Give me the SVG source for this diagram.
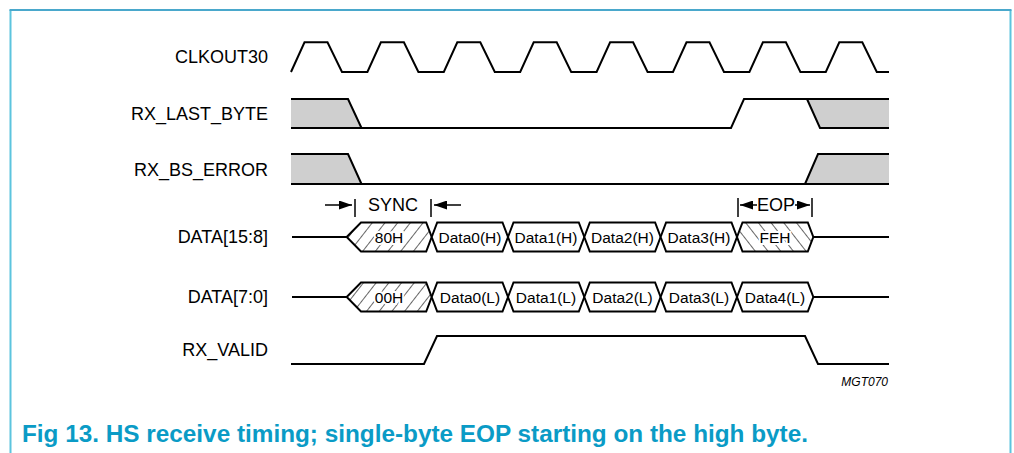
<svg xmlns="http://www.w3.org/2000/svg" width="1014" height="453" viewBox="0 0 1014 453">
<style>
.lbl{font-family:"Liberation Sans",Arial,sans-serif;font-size:18px;fill:#000;text-anchor:end}
.dl{font-family:"Liberation Sans",Arial,sans-serif;font-size:15.5px;fill:#000;text-anchor:middle}
.sig{fill:none;stroke:#000;stroke-width:2;stroke-linejoin:miter}
.gray{fill:#cfcfcf;stroke:none}
.box{fill:#fff;stroke:#000;stroke-width:2}
.hf{fill:url(#hatchF);stroke:#000;stroke-width:2}
.hb{fill:url(#hatchB);stroke:#000;stroke-width:2}
.halo{stroke:#fff;stroke-width:4;paint-order:stroke}
.dim{stroke:#000;stroke-width:1.5;fill:none}
</style>
<defs>
<pattern id="hatchF" width="10" height="10" patternUnits="userSpaceOnUse" patternTransform="rotate(38)">
<rect width="10" height="10" fill="#fff"/>
<line x1="0" y1="0" x2="0" y2="10" stroke="#000" stroke-width="1.2"/>
</pattern>
<pattern id="hatchB" width="10" height="10" patternUnits="userSpaceOnUse" patternTransform="rotate(-38)">
<rect width="10" height="10" fill="#fff"/>
<line x1="0" y1="0" x2="0" y2="10" stroke="#000" stroke-width="1.2"/>
</pattern>
<marker id="ah" markerUnits="userSpaceOnUse" markerWidth="13" markerHeight="9" refX="13" refY="4.5" orient="auto">
<path d="M0,0 L13,4.5 L0,9 z" fill="#000"/>
</marker>
</defs>

<g id="frame">
<line x1="10.5" y1="10" x2="10.5" y2="453" stroke="#5cc4de" stroke-width="2"/>
<line x1="1010.5" y1="10" x2="1010.5" y2="453" stroke="#5cc4de" stroke-width="2"/>
<line x1="9.5" y1="10" x2="1011.5" y2="10" stroke="#4aa8cc" stroke-width="2"/>
</g>

<g id="clkout30">
<text class="lbl" x="268" y="63">CLKOUT30</text>
<path class="sig" d="M291,72 L304.5,42.3 H327.5 L342,72 H367.4 L380.9,42.3 H403.9 L418.4,72 H443.8 L457.3,42.3 H480.3 L494.8,72 H520.2 L533.7,42.3 H556.7 L571.2,72 H596.6 L610.1,42.3 H633.1 L647.6,72 H673 L686.5,42.3 H709.5 L724,72 H749.4 L762.9,42.3 H785.9 L800.4,72 H825.8 L839.3,42.3 H862.3 L876.8,72 H889"/>
</g>

<g id="rx_last_byte">
<text class="lbl" x="268" y="120">RX_LAST_BYTE</text>
<polygon class="gray" points="291,99 348,99 361.5,128 291,128"/>
<polygon class="gray" points="807,99 889,99 889,128 820,128"/>
<path class="sig" d="M291,99 H348 L361.5,128"/>
<path class="sig" d="M291,128 H731 L744,99 H889"/>
<path class="sig" d="M807,99 L820,128 H889"/>
</g>

<g id="rx_bs_error">
<text class="lbl" x="268" y="176">RX_BS_ERROR</text>
<polygon class="gray" points="291,154 348,154 361.5,184 291,184"/>
<polygon class="gray" points="805,184 818,154 889,154 889,184"/>
<path class="sig" d="M291,154 H348 L361.5,184"/>
<path class="sig" d="M291,184 H889"/>
<path class="sig" d="M805,184 L818,154 H889"/>
</g>

<g id="connectors">
<line class="dim" x1="325" y1="205" x2="352" y2="205" marker-end="url(#ah)"/>
<line class="dim" x1="355" y1="199" x2="355" y2="217"/>
<text class="lbl" style="text-anchor:middle" x="393" y="211">SYNC</text>
<line class="dim" x1="431" y1="199" x2="431" y2="217"/>
<line class="dim" x1="461" y1="205" x2="434" y2="205" marker-end="url(#ah)"/>
<line class="dim" x1="738" y1="198" x2="738" y2="217"/>
<line class="dim" x1="757" y1="205" x2="740" y2="205" marker-end="url(#ah)"/>
<text class="lbl" style="text-anchor:middle" x="776" y="211">EOP</text>
<line class="dim" x1="795" y1="205" x2="810" y2="205" marker-end="url(#ah)"/>
<line class="dim" x1="812" y1="198" x2="812" y2="217"/>
</g>

<g id="data_15_8">
<text class="lbl" x="268" y="243">DATA[15:8]</text>
<path class="sig" d="M292,237 H346.7 M813.3,237 H889"/>
<polygon class="hf" points="346.7,237 361,222.5 426.2,222.5 431.7,237 426.2,251.5 361,251.5"/>
<text class="dl halo" x="389" y="242.5">80H</text>
<polygon class="box" points="431.7,237 437.2,222.5 502.5,222.5 508,237 502.5,251.5 437.2,251.5"/>
<text class="dl" x="470" y="242.5">Data0(H)</text>
<polygon class="box" points="508,237 513.5,222.5 578.8,222.5 584.3,237 578.8,251.5 513.5,251.5"/>
<text class="dl" x="546" y="242.5">Data1(H)</text>
<polygon class="box" points="584.3,237 589.8,222.5 655.1,222.5 660.6,237 655.1,251.5 589.8,251.5"/>
<text class="dl" x="622.5" y="242.5">Data2(H)</text>
<polygon class="box" points="660.6,237 666.1,222.5 731.5,222.5 737,237 731.5,251.5 666.1,251.5"/>
<text class="dl" x="699" y="242.5">Data3(H)</text>
<polygon class="hb" points="737,237 742.5,222.5 807.8,222.5 813.3,237 807.8,251.5 742.5,251.5"/>
<text class="dl halo" x="775" y="242.5">FEH</text>
</g>

<g id="data_7_0">
<text class="lbl" x="268" y="303">DATA[7:0]</text>
<path class="sig" d="M292,297 H346.7 M813.3,297 H889"/>
<polygon class="hf" points="346.7,297 361,282.5 426.2,282.5 431.7,297 426.2,311.5 361,311.5"/>
<text class="dl halo" x="389" y="302.5">00H</text>
<polygon class="box" points="431.7,297 437.2,282.5 502.5,282.5 508,297 502.5,311.5 437.2,311.5"/>
<text class="dl" x="470" y="302.5">Data0(L)</text>
<polygon class="box" points="508,297 513.5,282.5 578.8,282.5 584.3,297 578.8,311.5 513.5,311.5"/>
<text class="dl" x="546" y="302.5">Data1(L)</text>
<polygon class="box" points="584.3,297 589.8,282.5 655.1,282.5 660.6,297 655.1,311.5 589.8,311.5"/>
<text class="dl" x="622.5" y="302.5">Data2(L)</text>
<polygon class="box" points="660.6,297 666.1,282.5 731.5,282.5 737,297 731.5,311.5 666.1,311.5"/>
<text class="dl" x="699" y="302.5">Data3(L)</text>
<polygon class="box" points="737,297 742.5,282.5 807.8,282.5 813.3,297 807.8,311.5 742.5,311.5"/>
<text class="dl" x="775" y="302.5">Data4(L)</text>
</g>

<g id="rx_valid">
<text class="lbl" x="268" y="356">RX_VALID</text>
<path class="sig" d="M291,364 H424 L437,336 H805 L818,364 H889"/>
</g>

<text x="888" y="386" font-family="Liberation Sans, Arial, sans-serif" font-size="12" font-style="italic" text-anchor="end" fill="#000">MGT070</text>

<text x="22" y="442" font-family="Liberation Sans, Arial, sans-serif" font-size="23" font-weight="bold" fill="#0a9bc6" textLength="786" lengthAdjust="spacingAndGlyphs">Fig 13. HS receive timing; single-byte EOP starting on the high byte.</text>
</svg>
